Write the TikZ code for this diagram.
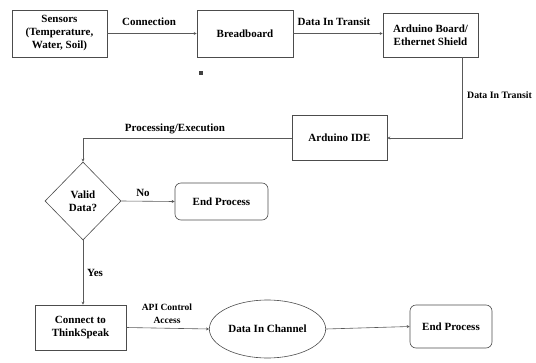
\documentclass[tikz,border=0pt]{standalone}
\usepackage{fontspec}
\setmainfont{Liberation Serif}
\usepackage{tikz}
\usetikzlibrary{shapes.geometric,arrows.meta}
\tikzset{
	box/.style={draw=black!70, line width=0.6pt, align=center, inner sep=2pt, font=\fontsize{11}{13}\selectfont\bfseries},
	endbox/.style={box, rounded corners=6pt},
	lbl/.style={font=\fontsize{11}{12}\selectfont\bfseries, align=center, inner sep=1pt},
	link/.style={draw=black!65, line width=0.6pt, -{Stealth[length=3pt,width=3pt]}}
}

\begin{document}
\begin{tikzpicture}[x=1pt,y=-1pt]
			%%%%% START %%%%%
			\useasboundingbox (0,0) rectangle (536,362);
			
			\node[box, minimum width=95pt, minimum height=47pt] (sensors) at (59.5, 33.5) {Sensors\\(Temperature,\\Water, Soil)};
			\node[box, minimum width=96pt, minimum height=47pt] (bread) at (245, 33.5) {Breadboard};
			\node[box, minimum width=95pt, minimum height=44pt] (ardb) at (430.5, 35) {Arduino Board/\\Ethernet Shield};
			\node[fill=black!75, minimum size=4pt, inner sep=0pt] (mark) at (201, 73) {};
			
			\node[box, minimum width=95pt, minimum height=45pt] (ide) at (339.5, 138) {Arduino IDE};
			
			\node[box, diamond, minimum width=76pt, minimum height=78pt, inner sep=0pt] (valid) at (83, 201) {Valid\\Data?};
			\node[endbox, minimum width=93pt, minimum height=37pt] (end1) at (221.5, 201.5) {End Process};
			
			\node[box, minimum width=91pt, minimum height=45pt] (conn) at (80.5, 327.5) {Connect to\\ThinkSpeak};
			\node[box, ellipse, minimum width=109pt, minimum height=58pt] (chan) at (267.5, 329) {Data In Channel};
			\node[endbox, minimum width=82pt, minimum height=43pt] (end2) at (451, 326.5) {End Process};
			
			\draw[link] (sensors.east) -- (bread.west);
			\node[lbl] (l1) at (149, 22) {Connection};
			
			\draw[link] (bread.east) -- (bread.east -| ardb.west);
			\node[lbl] (l2) at (334, 22) {Data In Transit};
			
			\draw[link] ([xshift=-16pt]ardb.south east) |- (ide.east);
			\node[lbl, anchor=west, font=\fontsize{9.8}{12}\selectfont\bfseries] (l3) at (466, 95) {Data In Transit};
			
			\draw[link] (ide.west) -| (valid.north);
			\node[lbl] (l4) at (175, 129) {Processing/Execution};
			
			\draw[link] (valid.east) -- (end1.west);
			\node[lbl] (l5) at (143, 193) {No};
			
			\draw[link] (valid.south) -- (valid.south |- conn.north);
			\node[lbl] (l6) at (95, 273) {Yes};
			
			\draw[link] (conn.east) -- (chan.west);
			\node[lbl, font=\fontsize{9.5}{13}\selectfont\bfseries] (l7) at (167, 314) {API Control\\Access};
			
			\draw[link] (chan.east) -- (end2.west);
			%%%%% END %%%%%
		\end{tikzpicture}
\end{document}
